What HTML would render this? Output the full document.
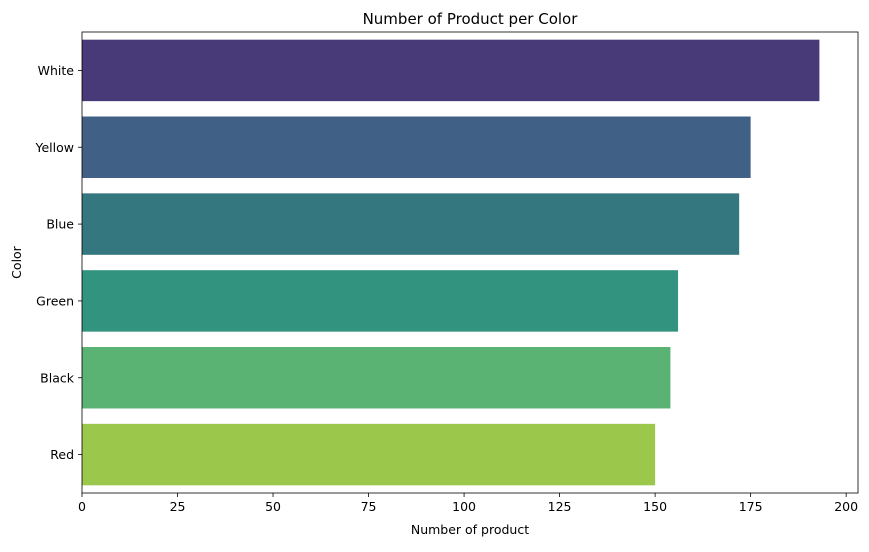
<!DOCTYPE html>
<html><head><meta charset="utf-8"><style>
body{margin:0;background:#fff;font-family:"Liberation Sans","DejaVu Sans",sans-serif;}
svg text{font-family:"DejaVu Sans","Liberation Sans",sans-serif;}
</style></head><body>
<svg id="c" width="869" height="547" xmlns="http://www.w3.org/2000/svg"></svg>
<script>
const categories=["White","Yellow","Blue","Green","Black","Red"];
const values=[193,175,172,156,154,150];
const colors=["#483a78","#416086","#35777f","#32937e","#5ab373","#9bc74b"];
const xTicks=[0,25,50,75,100,125,150,175,200];
const L=82,R=858,T=32,B=493,xMax=203.1;
const sx=v=>L+v/xMax*(R-L);
const band=(B-T)/categories.length;
const svg=document.getElementById('c');
const NS="http://www.w3.org/2000/svg";
function mk(tag,attrs,parent){const e=document.createElementNS(NS,tag);for(const k in attrs)e.setAttribute(k,attrs[k]);(parent||svg).appendChild(e);return e;}
categories.forEach((c,i)=>{
  const y=T+band*i+band*0.1;
  const r=mk('rect',{x:L,y:y,width:sx(values[i])-L,height:band*0.8,fill:colors[i]});
  
  
  const yc=T+band*(i+0.5);
  mk('line',{x1:L-4,x2:L,y1:yc,y2:yc,stroke:'#000','stroke-width':0.8});
  const t=mk('text',{x:L-8,y:yc+4.5,'text-anchor':'end','font-size':12.5,fill:'#000'});
  t.textContent=c;
  
  
});
xTicks.forEach(v=>{
  const x=sx(v);
  mk('line',{x1:x,x2:x,y1:B,y2:B+4,stroke:'#000','stroke-width':0.8});
  const t=mk('text',{x:x,y:B+18,'text-anchor':'middle','font-size':12.5,fill:'#000'});
  t.textContent=v;
  
  
});
const f=mk('rect',{x:L,y:T,width:R-L,height:B-T,fill:'none',stroke:'#000','stroke-width':0.8});


const ti=mk('text',{x:(L+R)/2,y:T-8,'text-anchor':'middle','font-size':15});
ti.textContent="Number of Product per Color";


const xl=mk('text',{x:(L+R)/2,y:B+41,'text-anchor':'middle','font-size':12.5});
xl.textContent="Number of product";


const yl=mk('text',{x:0,y:0,'text-anchor':'middle','font-size':12.5,transform:`translate(21,${(T+B)/2}) rotate(-90)`});
yl.textContent="Color";


</script>
</body></html>
